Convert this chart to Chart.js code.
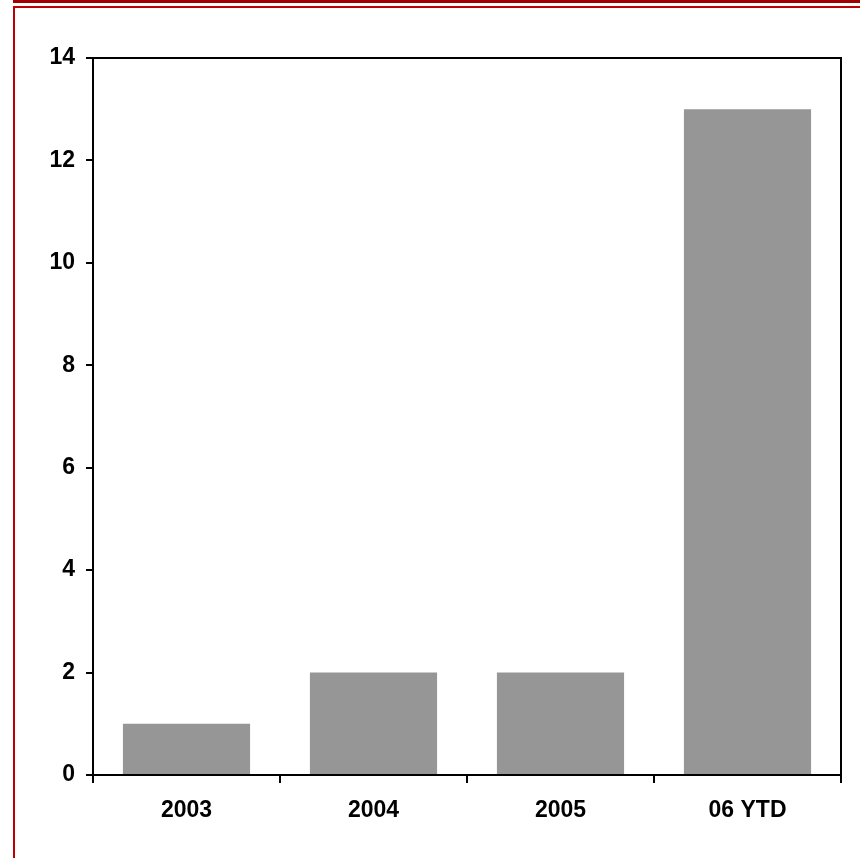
<!DOCTYPE html>
<html>
<head>
<meta charset="utf-8">
<script src="https://cdn.jsdelivr.net/npm/chart.js@4"></script>
<style>
html,body{margin:0;padding:0;background:#fff;}
#wrap{position:relative;width:860px;height:858px;overflow:hidden;}
#c{position:absolute;left:0;top:0;}
.bar1{position:absolute;left:13px;top:0;width:847px;height:3px;background:#a00000;}
.bar2{position:absolute;left:13px;top:6px;width:847px;height:2px;background:#c00000;}
.bar3{position:absolute;left:13px;top:6px;width:2px;height:852px;background:#c00000;}
</style>
</head>
<body>
<div id="wrap">
<canvas id="c" width="860" height="858"></canvas>
<div class="bar1"></div><div class="bar2"></div><div class="bar3"></div>
</div>
<script>
const categories = ["2003", "2004", "2005", "06 YTD"];
const values = [1, 2, 2, 13];
const yTicks = [0, 2, 4, 6, 8, 10, 12, 14];

const frame = {
  id: 'frame',
  afterDraw(chart) {
    const {ctx, chartArea: a} = chart;
    ctx.save();
    ctx.strokeStyle = '#000';
    ctx.lineWidth = 2;
    ctx.beginPath();
    ctx.moveTo(a.left, a.top);
    ctx.lineTo(a.right, a.top);
    ctx.lineTo(a.right, a.bottom);
    ctx.stroke();
    ctx.restore();
  }
};

const font = {family: "'Liberation Sans', Arial, sans-serif", size: 23, weight: 'bold'};

new Chart(document.getElementById('c'), {
  type: 'bar',
  data: {
    labels: categories,
    datasets: [{
      data: values,
      backgroundColor: '#969696',
      borderWidth: 0,
      barPercentage: 0.68,
      categoryPercentage: 1.0
    }]
  },
  options: {
    responsive: false,
    animation: false,
    plugins: {legend: {display: false}, tooltip: {enabled: false}},
    layout: {padding: {left: 0, top: 58, right: 19, bottom: 0}},
    scales: {
      x: {
        grid: {drawOnChartArea: false, drawTicks: true, tickLength: 8, color: '#000', lineWidth: 2, offset: true},
        border: {display: true, color: '#000', width: 2},
        ticks: {color: '#000', font: font, padding: 14, maxRotation: 0},
        afterFit(s) { s.height = 83; }
      },
      y: {
        min: 0, max: 14,
        afterBuildTicks(s) { s.ticks = yTicks.map(v => ({value: v})); },
        grid: {drawOnChartArea: false, drawTicks: true, tickLength: 7, color: '#000', lineWidth: 2},
        border: {display: true, color: '#000', width: 2},
        ticks: {color: '#000', font: font, padding: 11},
        afterFit(s) { s.width = 93; }
      }
    }
  },
  plugins: [frame]
});
</script>
</body>
</html>
